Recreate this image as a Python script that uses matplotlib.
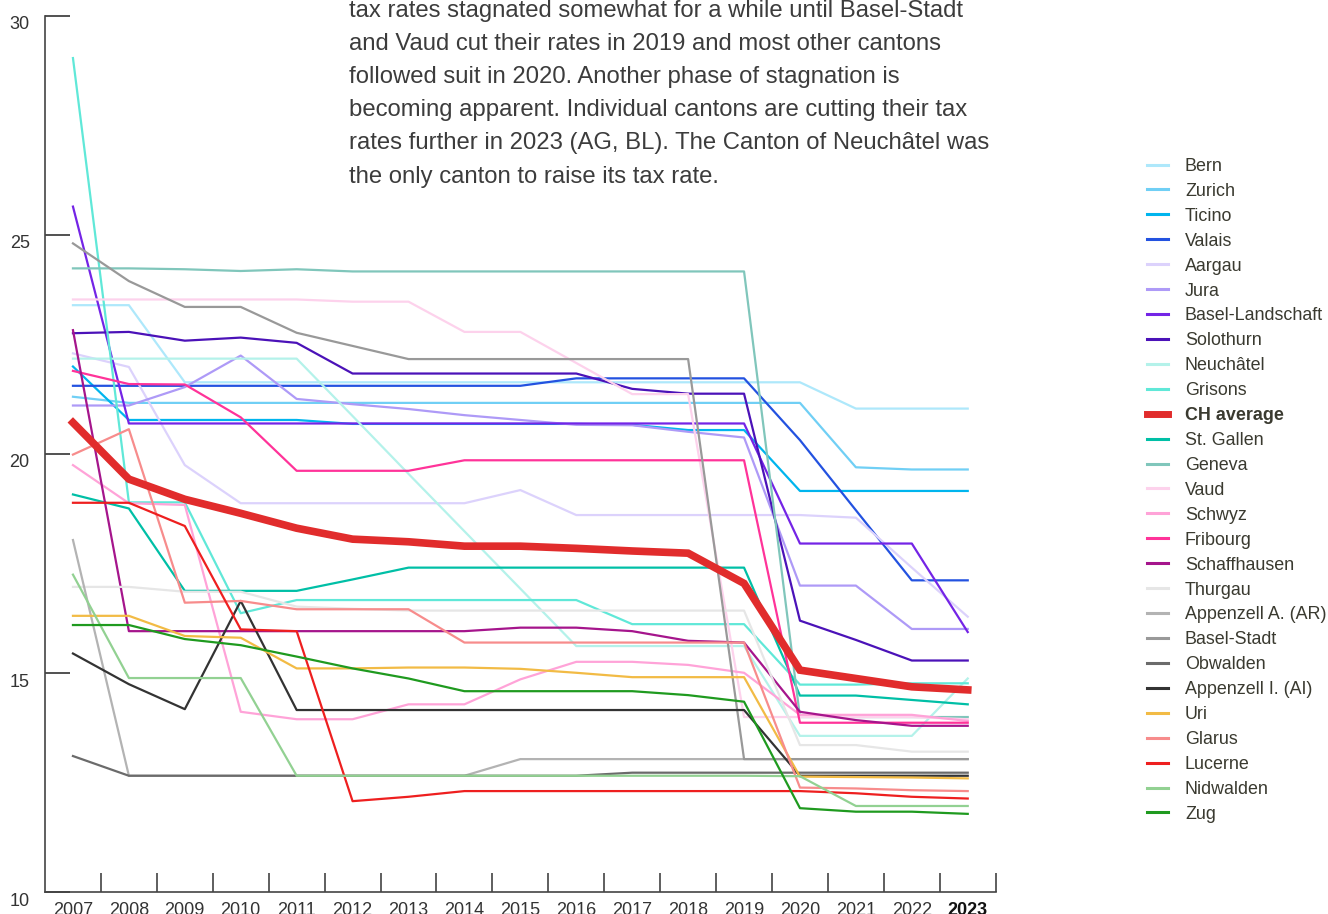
#!/usr/bin/env python3
# -*- coding: utf-8 -*-
# Corporate tax rates by canton, 2007-2023

import matplotlib
matplotlib.use('Agg')
import matplotlib.pyplot as plt
import matplotlib.transforms as mtransforms
from matplotlib.lines import Line2D

plt.rcParams['font.family'] = ['Liberation Sans', 'DejaVu Sans']

W, H = 1328, 914

years = list(range(2007, 2024))

# values (in %)
bern = [23.40, 23.40, 21.64, 21.64, 21.64, 21.64, 21.64, 21.64, 21.64, 21.64, 21.64, 21.64, 21.64, 21.64, 21.04, 21.04, 21.04]
zurich = [21.31, 21.17, 21.17, 21.17, 21.17, 21.17, 21.17, 21.17, 21.17, 21.17, 21.17, 21.17, 21.17, 21.17, 19.70, 19.65, 19.65]
ticino = [22.00, 20.78, 20.78, 20.78, 20.78, 20.69, 20.69, 20.69, 20.69, 20.69, 20.67, 20.55, 20.55, 19.16, 19.16, 19.16, 19.16]
valais = [21.56, 21.56, 21.56, 21.56, 21.56, 21.56, 21.56, 21.56, 21.56, 21.73, 21.73, 21.73, 21.73, 20.32, 18.72, 17.12, 17.12]
aargau = [22.30, 21.99, 19.75, 18.88, 18.88, 18.88, 18.88, 18.88, 19.18, 18.61, 18.61, 18.61, 18.61, 18.61, 18.55, 17.41, 16.29]
jura = [21.11, 21.11, 21.53, 22.25, 21.26, 21.14, 21.03, 20.89, 20.78, 20.67, 20.66, 20.51, 20.38, 17.00, 17.00, 16.01, 16.01]
basel_landschaft = [25.65, 20.70, 20.70, 20.70, 20.70, 20.70, 20.70, 20.70, 20.70, 20.70, 20.70, 20.70, 20.70, 17.96, 17.96, 17.96, 15.94]
solothurn = [22.76, 22.79, 22.59, 22.66, 22.54, 21.84, 21.84, 21.84, 21.84, 21.84, 21.49, 21.38, 21.38, 16.20, 15.76, 15.29, 15.29]
neuchatel = [22.18, 22.18, 22.18, 22.18, 22.18, 20.87, 19.55, 18.24, 16.93, 15.62, 15.62, 15.62, 15.62, 13.57, 13.57, 13.57, 14.88]
grisons = [29.04, 18.90, 18.90, 16.37, 16.67, 16.67, 16.67, 16.67, 16.67, 16.67, 16.12, 16.12, 16.12, 14.74, 14.74, 14.77, 14.77]
ch_average = [20.72, 19.43, 18.97, 18.65, 18.31, 18.06, 18.00, 17.90, 17.90, 17.85, 17.79, 17.74, 17.05, 15.07, 14.88, 14.69, 14.62]
st_gallen = [19.08, 18.76, 16.88, 16.88, 16.88, 17.14, 17.41, 17.41, 17.41, 17.41, 17.41, 17.41, 17.41, 14.49, 14.49, 14.39, 14.29]
geneva = [24.24, 24.24, 24.22, 24.18, 24.22, 24.17, 24.17, 24.17, 24.17, 24.17, 24.17, 24.17, 24.17, 14.00, 14.00, 14.00, 14.00]
vaud = [23.53, 23.53, 23.53, 23.53, 23.53, 23.48, 23.48, 22.79, 22.79, 22.08, 21.37, 21.37, 14.00, 14.00, 14.00, 14.00, 13.95]
schwyz = [19.75, 18.88, 18.84, 14.12, 13.95, 13.95, 14.29, 14.29, 14.86, 15.26, 15.26, 15.19, 15.01, 14.05, 14.05, 14.05, 13.91]
fribourg = [21.90, 21.60, 21.59, 20.84, 19.62, 19.62, 19.62, 19.86, 19.86, 19.86, 19.86, 19.86, 19.86, 13.87, 13.87, 13.87, 13.87]
schaffhausen = [22.83, 15.96, 15.96, 15.96, 15.96, 15.96, 15.96, 15.96, 16.04, 16.04, 15.96, 15.74, 15.70, 14.12, 13.93, 13.80, 13.80]
thurgau = [16.97, 16.97, 16.86, 16.86, 16.52, 16.47, 16.43, 16.43, 16.43, 16.43, 16.43, 16.43, 16.43, 13.36, 13.36, 13.21, 13.21]
appenzell_ar = [18.04, 12.66, 12.66, 12.66, 12.66, 12.66, 12.66, 12.66, 13.04, 13.04, 13.04, 13.04, 13.04, 13.04, 13.04, 13.04, 13.04]
basel_stadt = [24.81, 23.95, 23.36, 23.36, 22.77, 22.47, 22.17, 22.17, 22.17, 22.17, 22.17, 22.17, 13.04, 13.04, 13.04, 13.04, 13.04]
obwalden = [13.11, 12.66, 12.66, 12.66, 12.66, 12.66, 12.66, 12.66, 12.66, 12.66, 12.73, 12.73, 12.73, 12.73, 12.73, 12.73, 12.73]
appenzell_ai = [15.45, 14.75, 14.18, 16.65, 14.16, 14.16, 14.16, 14.16, 14.16, 14.16, 14.16, 14.16, 14.16, 12.66, 12.66, 12.66, 12.66]
uri = [16.31, 16.31, 15.85, 15.81, 15.11, 15.11, 15.13, 15.13, 15.10, 15.01, 14.91, 14.91, 14.91, 12.64, 12.63, 12.62, 12.60]
glarus = [19.99, 20.57, 16.61, 16.65, 16.46, 16.46, 16.46, 15.70, 15.70, 15.70, 15.70, 15.70, 15.70, 12.39, 12.37, 12.33, 12.31]
lucerne = [18.89, 18.89, 18.36, 16.00, 15.96, 12.08, 12.18, 12.31, 12.31, 12.31, 12.31, 12.31, 12.31, 12.31, 12.26, 12.18, 12.14]
nidwalden = [17.25, 14.89, 14.89, 14.89, 12.66, 12.66, 12.66, 12.66, 12.66, 12.66, 12.66, 12.66, 12.66, 12.65, 11.97, 11.97, 11.97]
zug = [16.10, 16.10, 15.78, 15.64, 15.38, 15.11, 14.88, 14.59, 14.59, 14.59, 14.59, 14.50, 14.35, 11.92, 11.84, 11.84, 11.79]

# legend order (top to bottom)
names = ['Bern', 'Zurich', 'Ticino', 'Valais', 'Aargau', 'Jura', 'Basel-Landschaft',
         'Solothurn', 'Neuchâtel', 'Grisons', 'CH average', 'St. Gallen', 'Geneva',
         'Vaud', 'Schwyz', 'Fribourg', 'Schaffhausen', 'Thurgau', 'Appenzell A. (AR)',
         'Basel-Stadt', 'Obwalden', 'Appenzell I. (AI)', 'Uri', 'Glarus', 'Lucerne',
         'Nidwalden', 'Zug']
series = [bern, zurich, ticino, valais, aargau, jura, basel_landschaft, solothurn,
          neuchatel, grisons, ch_average, st_gallen, geneva, vaud, schwyz, fribourg,
          schaffhausen, thurgau, appenzell_ar, basel_stadt, obwalden, appenzell_ai,
          uri, glarus, lucerne, nidwalden, zug]
colors = ['#aee8fb', '#70cff5', '#00b5ee', '#2352e0', '#dcd2fc', '#ae9af7', '#7424e6',
          '#4b12b8', '#b4f2ea', '#60e8d8', '#e12c2c', '#00bfa6', '#80c6bb',
          '#fdd2ec', '#ffa3d8', '#ff3399', '#a5158c', '#e6e6e6', '#b3b3b3',
          '#999999', '#6b6b6b', '#333333', '#f2bb45', '#f78c8c', '#ee1f1f',
          '#92d192', '#1f9a1f']

text_lines = [
    'tax rates stagnated somewhat for a while until Basel-Stadt',
    'and Vaud cut their rates in 2019 and most other cantons',
    'followed suit in 2020. Another phase of stagnation is',
    'becoming apparent. Individual cantons are cutting their tax',
    'rates further in 2023 (AG, BL). The Canton of Neuchâtel was',
    'the only canton to raise its tax rate.',
]

fig = plt.figure(figsize=(W / 100, H / 100), dpi=100)
ax = fig.add_axes([45 / W, (H - 892.3) / H, (995.7 - 45) / W, (892.3 - 16) / H])

for name, vals, col in zip(names, series, colors):
    if name == 'CH average':
        ax.plot(years, vals, color=col, lw=5.5, zorder=5, solid_joinstyle='miter')
    else:
        ax.plot(years, vals, color=col, lw=1.6, zorder=3)

ax.set_xlim(2006.5, 2023.5)
ax.set_ylim(10, 30)

for s in ['top', 'right']:
    ax.spines[s].set_visible(False)
for s in ['left', 'bottom']:
    ax.spines[s].set_color('#444444')
    ax.spines[s].set_linewidth(1.2)

# y axis
ax.set_yticks([10, 15, 20, 25, 30])
ax.tick_params(axis='y', direction='in', length=18, width=1.1, color='#222222',
               labelsize=13, labelcolor='#333333', pad=11)
shift = mtransforms.ScaledTranslation(0, -0.133, fig.dpi_scale_trans)
for lbl in ax.get_yticklabels():
    lbl.set_va('baseline')
    lbl.set_transform(lbl.get_transform() + shift)

# x axis: labels at years, tick marks between years
ax.set_xticks(years)
ax.set_xticklabels([str(y) for y in years])
ax.set_xticks([y + 0.5 for y in years], minor=True)
ax.tick_params(axis='x', which='major', length=0, labelsize=13, labelcolor='#333333', pad=6.8)
ax.tick_params(axis='x', which='minor', direction='in', length=13.5, width=1.1, color='#333333')
ax.get_xticklabels()[-1].set_fontweight('bold')
ax.get_xticklabels()[-1].set_color('#111111')

# paragraph
for i, line in enumerate(text_lines):
    fig.text(349 / W, 1 - (17 + 33.1 * i) / H, line, fontsize=17.2, color='#3c3c3c',
             va='baseline', ha='left')

# legend
for i, (name, col) in enumerate(zip(names, colors)):
    yc = 1 - (164.5 + 24.92 * i) / H
    lw = 5 if name == 'CH average' else 2.2
    fig.add_artist(Line2D([1147 / W, 1168 / W], [yc, yc], color=col, lw=lw,
                          transform=fig.transFigure))
    fig.text(1185 / W, yc - 6.4 / H, name, fontsize=12.9, color='#3a3a30',
             va='baseline', ha='left',
             fontweight='bold' if name == 'CH average' else 'normal')

plt.savefig('out.png', dpi=100)
